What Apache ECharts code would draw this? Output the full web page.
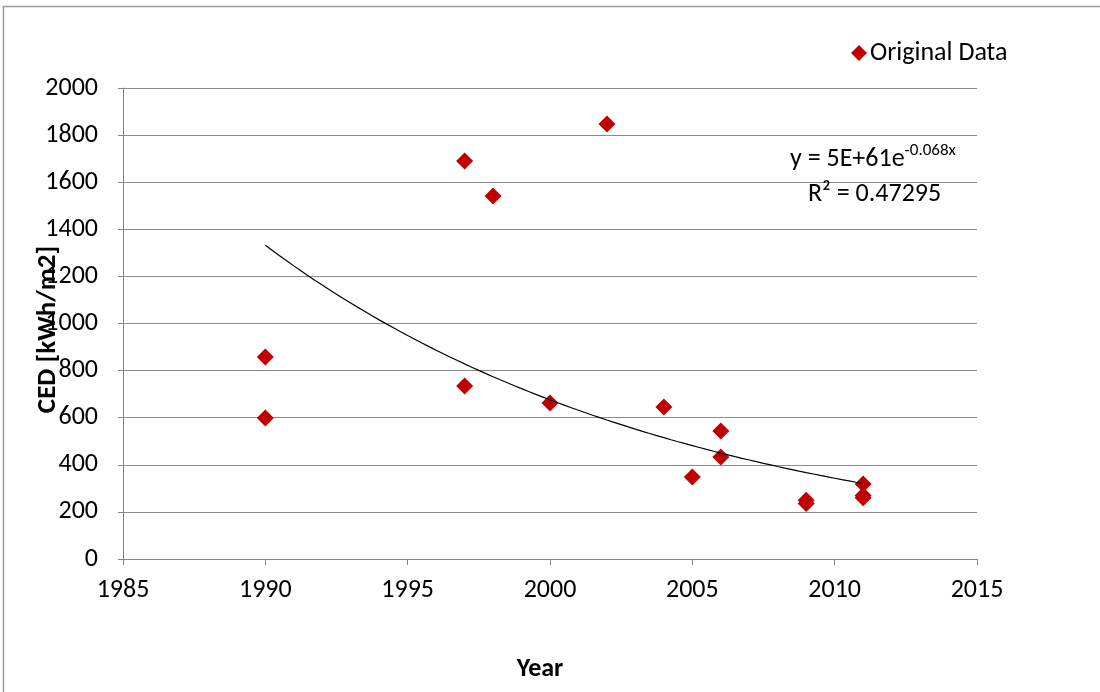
<!DOCTYPE html>
<html>
<head>
<meta charset="utf-8">
<script src="https://cdn.jsdelivr.net/npm/echarts@6/dist/echarts.min.js"></script>
<style>
  html, body { margin: 0; padding: 0; background: #fff; }
  #chart { width: 1100px; height: 692px; }
</style>
</head>
<body>
<div id="chart"></div>
<script>
// Cumulative energy demand per module area, by publication year
const years = [1990, 1990, 1997, 1997, 1998, 2000, 2002, 2004, 2005, 2006, 2006, 2009, 2009, 2011, 2011, 2011];
const ced   = [858, 599, 1690, 735, 1541, 662, 1847, 645, 348, 543, 433, 250, 236, 318, 270, 260];

const seriesName = 'Original Data';
const equationText = ['y = 5E+61e', '-0.068x'];
const r2Text = 'R² = 0.47295';

const FONT = 'Carlito, "Open Sans", sans-serif';

// Exponential trend (least squares on ln y), drawn over the data range
function expFit(xs, ys) {
  const n = xs.length;
  const ly = ys.map(Math.log);
  const mx = xs.reduce((a, b) => a + b, 0) / n;
  const my = ly.reduce((a, b) => a + b, 0) / n;
  let sxy = 0, sxx = 0;
  for (let i = 0; i < n; i++) {
    sxy += (xs[i] - mx) * (ly[i] - my);
    sxx += (xs[i] - mx) * (xs[i] - mx);
  }
  const b = sxy / sxx;
  const lnA = my - b * mx;
  return x => Math.exp(lnA + b * x);
}
const trend = expFit(years, ced);
const xMin = Math.min(...years), xMax = Math.max(...years);
const trendPts = [];
for (let x = xMin; x <= xMax + 1e-9; x += 0.25) trendPts.push([x, trend(x)]);

const plain = v => String(v);

const chart = echarts.init(document.getElementById('chart'), null, { renderer: 'canvas' });
chart.setOption({
  animation: false,
  backgroundColor: '#fff',
  textStyle: { fontFamily: FONT },
  grid: { left: 123, right: 123, top: 88, bottom: 133, containLabel: false },
  legend: {
    data: [{ name: seriesName, icon: 'diamond' }],
    left: 846, top: 35,
    itemWidth: 16, itemHeight: 16, itemGap: 4,
    textStyle: { fontFamily: FONT, fontSize: 26, color: '#000', padding: [0, 0, 0, -2] }
  },
  xAxis: {
    type: 'value', min: 1985, max: 2015, interval: 5,
    name: 'Year', nameLocation: 'middle', nameGap: 97, nameMoveOverlap: false,
    nameTextStyle: { fontFamily: FONT, fontSize: 26, fontWeight: 'bold', color: '#000', padding: [0, 20, 0, 0] },
    axisLine: { show: true, onZero: false, lineStyle: { color: '#868686', width: 1 } },
    axisTick: { show: true, length: 6, lineStyle: { color: '#868686' } },
    axisLabel: { margin: 18, fontSize: 26, color: '#000', fontFamily: FONT, formatter: plain },
    splitLine: { show: false }
  },
  yAxis: {
    type: 'value', min: 0, max: 2000, interval: 200,
    name: 'CED [kWh/m2]', nameLocation: 'middle', nameGap: 61, nameMoveOverlap: false,
    nameTextStyle: { fontFamily: FONT, fontSize: 27, fontWeight: 'bold', color: '#000', padding: [0, 12, 0, 0] },
    axisLine: { show: true, lineStyle: { color: '#868686', width: 1 } },
    axisTick: { show: true, length: 5, lineStyle: { color: '#868686' } },
    axisLabel: { margin: 25, fontSize: 26, color: '#000', fontFamily: FONT, formatter: plain },
    splitLine: { show: true, lineStyle: { color: '#8c8c8c', width: 1 } }
  },
  series: [
    {
      name: seriesName,
      type: 'scatter',
      symbol: 'diamond',
      symbolSize: 17,
      itemStyle: { color: '#C00000', opacity: 1 },
      data: years.map((y, i) => [y, ced[i]]),
      z: 3
    },
    {
      name: 'trend',
      type: 'line',
      data: trendPts,
      showSymbol: false,
      smooth: false,
      lineStyle: { color: '#000', width: 1.2 },
      z: 4,
      silent: true
    }
  ],
  graphic: [
    {
      type: 'rect', silent: true, z: -1,
      shape: { x: 3.5, y: 6.5, width: 1200, height: 800 },
      style: { fill: 'none', stroke: '#9a9a9a', lineWidth: 1.5 }
    },
    {
      type: 'text', left: 790, top: 142, z: 10,
      style: {
        text: '{m|' + equationText[0] + '}{s|' + equationText[1] + '}',
        rich: {
          m: { fontFamily: FONT, fontSize: 26, fill: '#000', lineHeight: 34 },
          s: { fontFamily: FONT, fontSize: 17, fill: '#000', verticalAlign: 'top', lineHeight: 34, padding: [0, 0, 16, 0] }
        }
      }
    },
    {
      type: 'text', left: 808, top: 181, z: 10,
      style: { text: r2Text, fontFamily: FONT, fontSize: 26, fill: '#000' }
    }
  ]
});
</script>
</body>
</html>
